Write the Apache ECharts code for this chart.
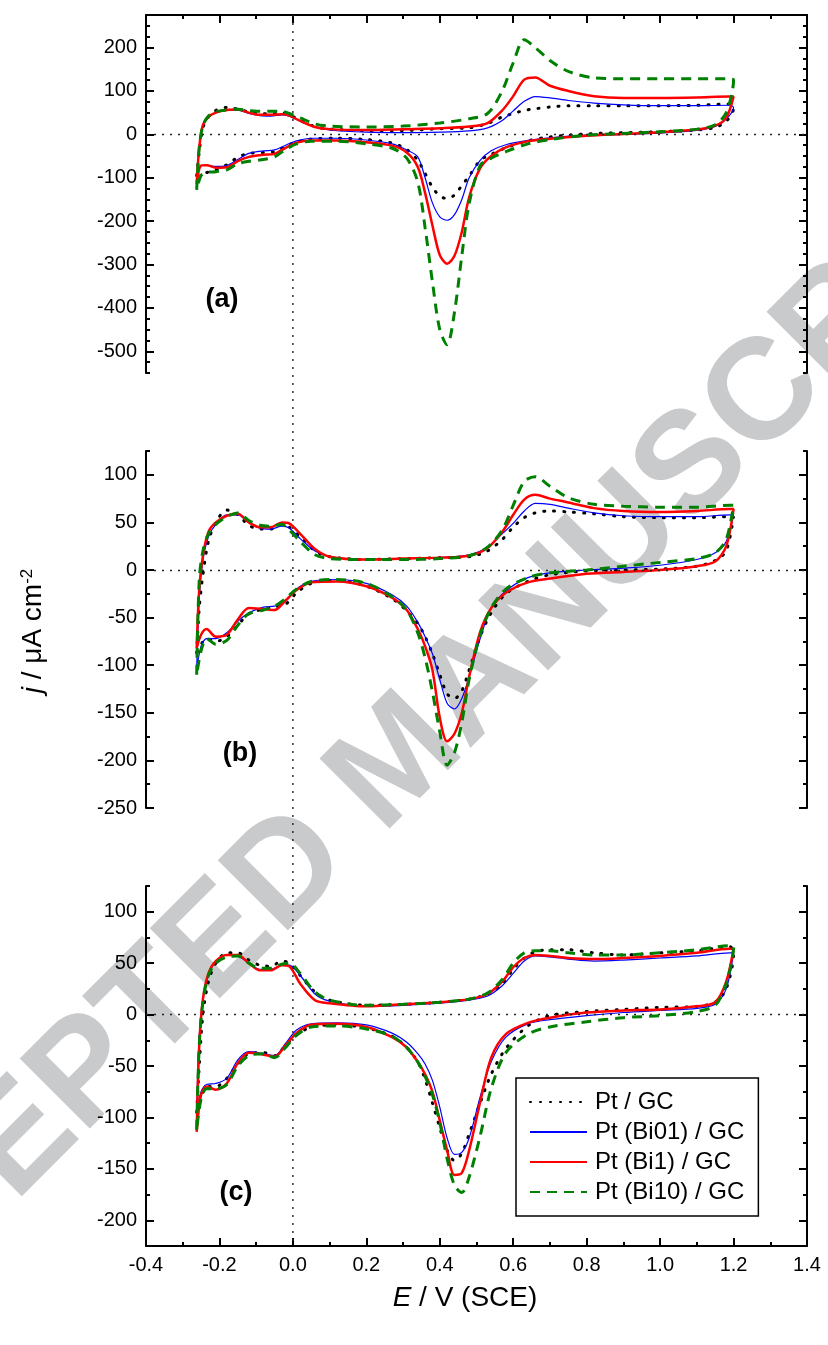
<!DOCTYPE html>
<html>
<head>
<meta charset="utf-8">
<script src="https://cdn.jsdelivr.net/npm/echarts@6/dist/echarts.min.js"></script>
<style>
  html, body { margin: 0; padding: 0; background: #fff; }
  #chart { width: 828px; height: 1345px; }
</style>
</head>
<body>
<div id="chart"></div>
<script>
// potential grid (V vs SCE): anodic sweep first, then the cathodic sweep back
const E_FWD = [-0.262, -0.255, -0.245, -0.23, -0.21, -0.18, -0.15, -0.12, -0.09, -0.06, -0.03, -0.01,
  0.02, 0.06, 0.1, 0.2, 0.3, 0.4, 0.48, 0.53, 0.57, 0.6, 0.63, 0.66, 0.7, 0.75, 0.82, 0.9, 1.0, 1.1, 1.19];
const E_REV = [1.2, 1.18, 1.15, 1.1, 1.0, 0.9, 0.8, 0.7, 0.64, 0.58, 0.54, 0.51, 0.48, 0.46, 0.44, 0.42,
  0.40, 0.38, 0.36, 0.34, 0.31, 0.27, 0.2, 0.12, 0.05, 0.01, -0.02, -0.05, -0.08, -0.12, -0.15, -0.18,
  -0.21, -0.235, -0.25, -0.262];

// j / uA cm-2, panel (a)
const aPt = [-95, -40, 15, 40, 55, 62, 58, 52, 48, 47, 50, 45, 32, 18, 12, 9, 9, 13, 15, 25, 40, 48, 55, 59, 63, 66, 66, 66, 66, 67, 70,
  60, 30, 16, 10, 6, 4, 1, -6, -15, -31, -46, -60, -96, -118, -140, -148, -142, -122, -90, -60, -35, -20, -12, -9, -11, -18, -28, -40, -42, -44, -53, -70, -82, -88, -92, -95];
const aBi01 = [-105, -30, 22, 40, 50, 56, 56, 48, 43, 42, 45, 42, 30, 17, 10, 5, 4, 5, 8, 15, 32, 54, 76, 87, 84, 78, 72, 68, 66, 66, 67,
  62, 35, 18, 9, 3, 0, -2, -8, -14, -24, -38, -60, -100, -150, -185, -198, -190, -158, -100, -52, -36, -22, -13, -9, -9, -15, -25, -36, -38, -44, -58, -72, -74, -71, -72, -105];
const aBi1 = [-115, -30, 22, 40, 50, 56, 57, 50, 45, 45, 46, 43, 31, 17, 12, 10, 12, 14, 18, 26, 55, 88, 126, 131, 112, 100, 88, 84, 84, 85, 87,
  87, 38, 20, 11, 5, 1, -3, -10, -16, -30, -50, -78, -145, -225, -280, -298, -278, -210, -135, -75, -42, -26, -18, -14, -14, -19, -31, -45, -47, -52, -62, -76, -77, -71, -72, -115];
const aBi10 = [-128, -30, 20, 42, 52, 56, 58, 55, 53, 53, 53, 48, 38, 24, 19, 17, 19, 26, 36, 48, 100, 165, 218, 200, 170, 145, 130, 128, 128, 128, 128,
  125, 50, 22, 12, 6, 2, -2, -12, -22, -40, -55, -72, -160, -280, -410, -485, -450, -340, -215, -110, -55, -32, -22, -16, -16, -22, -35, -52, -58, -62, -68, -82, -86, -88, -95, -128];

// panel (b)
const bPt = [-87, -40, -5, 30, 50, 63, 58, 47, 43, 43, 48, 45, 35, 20, 14, 11, 12, 13, 14, 20, 32, 45, 55, 60, 62, 61, 59, 56, 55, 55, 56,
  56, 20, 10, 4, 1, 0, -1, -5, -12, -25, -45, -70, -105, -127, -135, -130, -110, -88, -70, -56, -43, -30, -17, -11, -14, -24, -36, -39, -41, -46, -58, -70, -75, -72, -78, -87];
const bBi01 = [-105, -30, 10, 35, 48, 58, 58, 50, 44, 43, 46, 44, 33, 20, 14, 11, 12, 13, 16, 24, 38, 49, 62, 70, 69, 65, 60, 57, 56, 56, 58,
  58, 30, 18, 11, 5, 2, 0, -3, -8, -22, -40, -72, -112, -135, -146, -140, -115, -88, -70, -55, -38, -26, -14, -10, -12, -20, -33, -38, -39, -45, -54, -66, -72, -72, -80, -105];
const bBi1 = [-82, -20, 15, 40, 50, 57, 59, 50, 45, 45, 50, 49, 38, 22, 14, 11, 12, 13, 15, 23, 40, 58, 74, 79, 75, 71, 65, 62, 61, 62, 64,
  64, 25, 9, 4, 0, -2, -4, -9, -13, -24, -40, -65, -112, -150, -172, -180, -155, -105, -80, -62, -42, -29, -17, -12, -13, -21, -32, -42, -41, -40, -52, -68, -70, -62, -68, -82];
const bBi10 = [-110, -10, 20, 38, 48, 56, 60, 52, 47, 46, 48, 42, 30, 16, 12, 11, 11, 12, 15, 24, 42, 68, 93, 98, 88, 76, 69, 67, 66, 66, 68,
  68, 32, 18, 12, 8, 4, 0, -3, -8, -20, -40, -68, -115, -160, -192, -205, -170, -128, -92, -66, -42, -28, -14, -10, -12, -20, -30, -38, -42, -46, -58, -74, -78, -72, -85, -110];

// panel (c)
const cPt = [-95, -50, 0, 32, 50, 60, 60, 53, 48, 47, 52, 50, 38, 22, 14, 9, 10, 12, 15, 20, 30, 44, 55, 61, 63, 63, 60, 58, 60, 62, 66,
  60, 25, 12, 8, 7, 5, 3, -1, -11, -33, -58, -86, -116, -135, -142, -132, -110, -86, -63, -46, -32, -21, -13, -10, -12, -20, -30, -40, -37, -38, -48, -62, -70, -70, -80, -95];
const cBi01 = [-95, -20, 15, 38, 52, 58, 57, 50, 44, 44, 48, 48, 38, 20, 13, 8, 9, 11, 14, 18, 28, 40, 52, 57, 56, 54, 52, 53, 55, 57, 60,
  60, 25, 10, 6, 4, 2, -1, -5, -9, -22, -46, -80, -120, -134, -136, -120, -90, -64, -48, -38, -27, -18, -10, -8, -9, -15, -28, -40, -38, -36, -44, -62, -67, -68, -75, -95];
const cBi1 = [-114, -30, 15, 40, 52, 58, 58, 50, 43, 43, 48, 47, 30, 14, 11, 8, 10, 12, 15, 20, 32, 46, 55, 58, 57, 55, 54, 55, 57, 60, 64,
  64, 32, 12, 8, 5, 4, 2, -3, -8, -19, -42, -85, -132, -154, -156, -132, -103, -75, -58, -46, -32, -22, -12, -9, -10, -18, -30, -41, -39, -37, -47, -67, -73, -70, -78, -114];
const cBi10 = [-112, -30, 12, 38, 50, 56, 57, 50, 45, 45, 49, 50, 40, 22, 14, 9, 10, 12, 15, 21, 34, 50, 60, 62, 62, 60, 58, 58, 60, 63, 67,
  66, 30, 9, 3, -1, -3, -7, -12, -19, -37, -72, -118, -158, -173, -166, -140, -105, -78, -60, -46, -32, -21, -14, -11, -12, -20, -32, -42, -38, -40, -50, -68, -72, -72, -82, -112];

const NAMES = ['Pt / GC', 'Pt (Bi01) / GC', 'Pt (Bi1) / GC', 'Pt (Bi10) / GC'];
const PANEL_LABELS = ['(a)', '(b)', '(c)'];

// axis ticks
const X_MAJOR = [-0.4, -0.2, 0, 0.2, 0.4, 0.6, 0.8, 1.0, 1.2, 1.4];
const X_MINOR = [-0.3, -0.1, 0.1, 0.3, 0.5, 0.7, 0.9, 1.1, 1.3];
const Y_MIN = [-550, -250, -225];
const Y_MAX = [275, 125, 125];
const Y_MAJOR = [
  [-500, -400, -300, -200, -100, 0, 100, 200],
  [-250, -200, -150, -100, -50, 0, 50, 100],
  [-200, -150, -100, -50, 0, 50, 100]
];

const FONT = "'Liberation Sans', Arial, Helvetica, sans-serif";
const E_LOOP = E_FWD.concat(E_REV);
const panelData = [[aPt, aBi01, aBi1, aBi10], [bPt, bBi01, bBi1, bBi10], [cPt, cBi01, cBi1, cBi10]];

const chart = echarts.init(document.getElementById('chart'), null, { renderer: 'canvas' });

const grids = [
  { left: 146, right: 21, top: 15, height: 358 },
  { left: 146, right: 21, top: 451, height: 357 },
  { left: 146, right: 21, top: 886, height: 360 }
].map(g => Object.assign({ outerBoundsMode: 'none', containLabel: false }, g));

const tickLine = { color: '#000', width: 2 };

function xAxesFor(p) {
  const vis = p !== 1;
  const base = { gridIndex: p, type: 'value', min: -0.4, max: 1.4, position: p === 0 ? 'top' : 'bottom', splitLine: { show: false } };
  return [
    Object.assign({}, base, {
      axisLine: { show: vis, onZero: false, lineStyle: tickLine },
      axisTick: { show: vis, inside: true, length: 8, customValues: X_MAJOR, lineStyle: tickLine },
      axisLabel: { show: p === 2, customValues: X_MAJOR, formatter: v => v.toFixed(1),
        fontSize: 20, color: '#000', fontFamily: FONT, margin: 9 }
    }),
    Object.assign({}, base, {
      axisLine: { show: false, onZero: false },
      axisTick: { show: vis, inside: true, length: 4, customValues: X_MINOR, lineStyle: tickLine },
      axisLabel: { show: false }
    })
  ];
}

function yAxesFor(p) {
  const min = Y_MIN[p], max = Y_MAX[p];
  const minors = [];
  for (let v = min; v <= max; v += 25) if (Y_MAJOR[p].indexOf(v) < 0) minors.push(v);
  const out = [];
  ['left', 'right'].forEach(pos => {
    out.push({
      gridIndex: p, type: 'value', min, max, position: pos, splitLine: { show: false },
      axisLine: { show: true, onZero: false, lineStyle: tickLine },
      axisTick: { show: true, inside: true, length: 8, customValues: Y_MAJOR[p], lineStyle: tickLine },
      axisLabel: { show: pos === 'left', customValues: Y_MAJOR[p], fontSize: 20, color: '#000', fontFamily: FONT, margin: 9 }
    });
    out.push({
      gridIndex: p, type: 'value', min, max, position: pos, splitLine: { show: false },
      axisLine: { show: false, onZero: false },
      axisTick: { show: true, inside: true, length: 4, customValues: minors, lineStyle: tickLine },
      axisLabel: { show: false }
    });
  });
  return out;
}

const styles = [
  { color: '#000000', width: 3, type: [1, 9], cap: 'round' },
  { color: '#0000ff', width: 1.2, type: 'solid' },
  { color: '#ff0000', width: 2.5, type: 'solid' },
  { color: '#008000', width: 3, type: [10, 7] }
];

const series = [];
panelData.forEach((sets, p) => {
  sets.forEach((vals, s) => {
    const item = {
      type: 'line', name: NAMES[s], xAxisIndex: 2 * p, yAxisIndex: 4 * p,
      data: E_LOOP.map((e, i) => [e, vals[i]]),
      smooth: 0.3, showSymbol: false, symbol: 'none',
      itemStyle: { color: styles[s].color },
      lineStyle: styles[s], z: 2 + s, animation: false
    };
    if (s === 0) {
      item.markLine = {
        silent: true, symbol: ['none', 'none'], animation: false,
        label: { show: false },
        lineStyle: { color: '#222', width: 1.4, type: [2, 6] },
        data: [{ yAxis: 0 }]
      };
    }
    series.push(item);
  });
});

chart.setOption({
  animation: false,
  backgroundColor: '#fff',
  grid: grids,
  xAxis: [0, 1, 2].flatMap(xAxesFor),
  yAxis: [0, 1, 2].flatMap(yAxesFor),
  legend: {
    data: NAMES, orient: 'vertical', left: 516, top: 1078, z: 10,
    padding: [12, 14, 12, 13], itemGap: 6, itemWidth: 57, itemHeight: 14,
    borderColor: '#000', borderWidth: 1.5, backgroundColor: '#fff', borderRadius: 0,
    selectedMode: false,
    itemStyle: { color: 'rgba(0,0,0,0)', borderWidth: 0, opacity: 0 },
    textStyle: { fontSize: 24, color: '#000', fontFamily: FONT, padding: [0, 0, 0, 3] }
  },
  series
});

// shared dotted line at E = 0 running through all three panels
const x0 = chart.convertToPixel({ xAxisIndex: 0 }, 0);
const yTop = chart.convertToPixel({ yAxisIndex: 0 }, Y_MAX[0]);
const yBot = chart.convertToPixel({ yAxisIndex: 8 }, Y_MIN[2]);

const labelPos = [[222, 300], [240, 754], [236, 1193]];

chart.setOption({
  graphic: [
    {
      type: 'text', z: -10, x: 400, y: 762, rotation: Math.PI / 4, silent: true,
      style: {
        text: 'ACCEPTED MANUSCRIPT', font: 'bold 144px ' + FONT, fill: '#c9cacc',
        textAlign: 'center', textVerticalAlign: 'middle', align: 'center', verticalAlign: 'middle'
      }
    },
    {
      type: 'line', z: 1, silent: true,
      shape: { x1: x0, y1: yTop, x2: x0, y2: yBot },
      style: { stroke: '#222', lineWidth: 1.4, lineDash: [2, 6] }
    },
    ...PANEL_LABELS.map((t, i) => ({
      type: 'text', z: 5, x: labelPos[i][0], y: labelPos[i][1], silent: true,
      style: {
        text: t, font: 'bold 27px ' + FONT, fill: '#000',
        textAlign: 'center', textVerticalAlign: 'middle', align: 'center', verticalAlign: 'middle'
      }
    })),
    {
      type: 'text', z: 5, x: 465, y: 1298, silent: true,
      style: {
        text: '{i|E} / V (SCE)', font: '28px ' + FONT, fill: '#000',
        rich: { i: { fontStyle: 'italic', fontSize: 28, fontFamily: FONT } },
        textAlign: 'center', textVerticalAlign: 'middle', align: 'center', verticalAlign: 'middle'
      }
    },
    {
      type: 'text', z: 5, x: 33, y: 631, rotation: Math.PI / 2, silent: true,
      style: {
        text: '{i|j} / μA cm{sup|-2}', font: '28px ' + FONT, fill: '#000',
        rich: {
          i: { fontStyle: 'italic', fontSize: 28, fontFamily: FONT },
          sup: { fontSize: 17, fontFamily: FONT, verticalAlign: 'top', padding: [0, 0, 10, 0] }
        },
        textAlign: 'center', textVerticalAlign: 'middle', align: 'center', verticalAlign: 'middle'
      }
    }
  ]
});
</script>
</body>
</html>
